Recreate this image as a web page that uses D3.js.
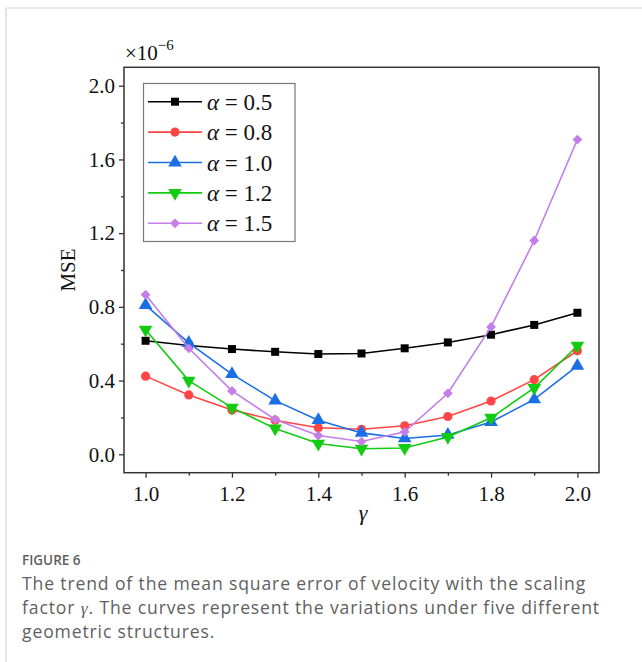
<!DOCTYPE html>
<html>
<head>
<meta charset="utf-8">
<script src="https://cdn.jsdelivr.net/npm/d3@7"></script>
<style>
  body { margin: 0; background: #fff; }
  svg { display: block; }
  .tick text { font-family: "Liberation Serif", "Times New Roman", serif; font-size: 21px; fill: #111; }
  .caption { font-family: "Open Sans", "Noto Sans", sans-serif; fill: #5f5f5f; }
</style>
</head>
<body>
<div id="viz"></div>
<script>
// data (MSE in units of 1e-6)
let gamma_vals = [1.0, 1.1, 1.2, 1.3, 1.4, 1.5, 1.6, 1.7, 1.8, 1.9, 2.0];
let mse_a05 = [0.616, 0.590, 0.571, 0.556, 0.544, 0.547, 0.575, 0.607, 0.649, 0.702, 0.768];
let mse_a08 = [0.424, 0.322, 0.240, 0.185, 0.144, 0.136, 0.155, 0.205, 0.289, 0.405, 0.562];
let mse_a10 = [0.809, 0.604, 0.435, 0.291, 0.185, 0.116, 0.086, 0.105, 0.175, 0.298, 0.480];
let mse_a12 = [0.676, 0.400, 0.253, 0.140, 0.058, 0.030, 0.034, 0.094, 0.198, 0.360, 0.589];
let mse_a15 = [0.866, 0.575, 0.344, 0.189, 0.102, 0.069, 0.122, 0.331, 0.691, 1.160, 1.708];
let series_labels = ["0.5", "0.8", "1.0", "1.2", "1.5"];
let x_ticks = [1.0, 1.2, 1.4, 1.6, 1.8, 2.0];
let x_minor = [1.1, 1.3, 1.5, 1.7, 1.9];
let y_ticks = [0.0, 0.4, 0.8, 1.2, 1.6, 2.0];
let y_minor = [0.2, 0.6, 1.0, 1.4, 1.8];

let series = [
    {label: series_labels[0], values: mse_a05, color: "#000000", shape: "square"},
    {label: series_labels[1], values: mse_a08, color: "#ff4545", shape: "circle"},
    {label: series_labels[2], values: mse_a10, color: "#1b6fe4", shape: "up"},
    {label: series_labels[3], values: mse_a12, color: "#12cc12", shape: "down"},
    {label: series_labels[4], values: mse_a15, color: "#c57de8", shape: "diamond"}
];

let W = 642, H = 662;
let plot = {left: 124, right: 599, top: 67.3, bottom: 472.7};

let svg = d3.select("#viz").append("svg")
    .attr("width", W)
    .attr("height", H);

// light page frame
svg.append("line").attr("x1", 6).attr("y1", 8).attr("x2", W).attr("y2", 8)
    .attr("stroke", "#d4d4d4").attr("stroke-width", 1.2);
svg.append("line").attr("x1", 6).attr("y1", 8).attr("x2", 6).attr("y2", H)
    .attr("stroke", "#d4d4d4").attr("stroke-width", 1.2);

let x = d3.scaleLinear().domain([0.95, 2.05]).range([plot.left, plot.right]);
let y = d3.scaleLinear().domain([-0.1, 2.1]).range([plot.bottom, plot.top]);

// axes
let gx = svg.append("g").attr("transform", "translate(0," + plot.bottom + ")")
    .call(d3.axisBottom(x).tickValues(x_ticks).tickFormat(d3.format(".1f")).tickSize(5).tickPadding(8));
let gx2 = svg.append("g").attr("transform", "translate(0," + plot.bottom + ")")
    .call(d3.axisBottom(x).tickValues(x_minor).tickFormat("").tickSize(3));
let gy = svg.append("g").attr("transform", "translate(" + plot.left + ",0)")
    .call(d3.axisLeft(y).tickValues(y_ticks).tickFormat(d3.format(".1f")).tickSize(5).tickPadding(4));
let gy2 = svg.append("g").attr("transform", "translate(" + plot.left + ",0)")
    .call(d3.axisLeft(y).tickValues(y_minor).tickFormat("").tickSize(3));

[gx, gx2, gy, gy2].forEach(function(g){
    g.select(".domain").remove();
    g.selectAll(".tick line").attr("stroke", "#333").attr("stroke-width", 1.3);
});

// frame
svg.append("rect")
    .attr("x", plot.left).attr("y", plot.top)
    .attr("width", plot.right - plot.left).attr("height", plot.bottom - plot.top)
    .attr("fill", "none").attr("stroke", "#333").attr("stroke-width", 1.5);

function marker(shape){
    let sym = d3.symbol();
    if(shape === "square"){ return sym.type(d3.symbolSquare).size(64)(); }
    if(shape === "circle"){ return sym.type(d3.symbolCircle).size(66)(); }
    if(shape === "up" || shape === "down"){ return sym.type(d3.symbolTriangle).size(80)(); }
    return sym.type(d3.symbolSquare).size(48)();
}
function marker_rot(shape){
    if(shape === "down"){ return " rotate(180)"; }
    if(shape === "diamond"){ return " rotate(45)"; }
    return "";
}

let line = d3.line()
    .x(function(d){ return x(d[0]); })
    .y(function(d){ return y(d[1]); });

series.forEach(function(s){
    let pts = gamma_vals.map(function(g, i){ return [g, s.values[i]]; });
    let g = svg.append("g");
    g.append("path")
        .datum(pts)
        .attr("d", line)
        .attr("fill", "none")
        .attr("stroke", s.color)
        .attr("stroke-width", 1.6);
    g.selectAll("path.mk")
        .data(pts)
        .enter()
        .append("path")
        .attr("class", "mk")
        .attr("d", marker(s.shape))
        .attr("transform", function(d){
            return "translate(" + x(d[0]) + "," + y(d[1]) + ")" + marker_rot(s.shape);
        })
        .attr("fill", s.color);
});

// legend
let lg = svg.append("g");
lg.append("rect")
    .attr("x", 143.5).attr("y", 83.5).attr("width", 151.5).attr("height", 158)
    .attr("fill", "#fff").attr("stroke", "#777").attr("stroke-width", 1.2);
series.forEach(function(s, i){
    let ly = 101.7 + i*30.4;
    lg.append("line").attr("x1", 148).attr("x2", 202).attr("y1", ly).attr("y2", ly)
        .attr("stroke", s.color).attr("stroke-width", 1.6);
    lg.append("path").attr("d", marker(s.shape))
        .attr("transform", "translate(175," + ly + ")" + marker_rot(s.shape))
        .attr("fill", s.color);
    let t = lg.append("text")
        .attr("x", 207).attr("y", ly + 8)
        .style("font-family", "'Liberation Serif', serif")
        .style("font-size", "23px")
        .attr("fill", "#111");
    t.append("tspan").style("font-style", "italic").text("α");
    t.append("tspan").text(" = " + s.label);
});

// axis titles
let exp = svg.append("text")
    .attr("x", 125).attr("y", 60)
    .style("font-family", "'Liberation Serif', serif")
    .style("font-size", "21px")
    .attr("fill", "#111");
exp.append("tspan").text("×10");
exp.append("tspan").attr("dy", -10).style("font-size", "15px").text("−6");

svg.append("text")
    .attr("transform", "translate(75,270) rotate(-90)")
    .attr("text-anchor", "middle")
    .style("font-family", "'Liberation Serif', serif")
    .style("font-size", "21px")
    .attr("fill", "#111")
    .text("MSE");

svg.append("text")
    .attr("x", 363).attr("y", 520)
    .attr("text-anchor", "middle")
    .style("font-family", "'Liberation Serif', serif")
    .style("font-size", "22px")
    .style("font-style", "italic")
    .attr("fill", "#111")
    .text("γ");

// caption
svg.append("text").attr("class", "caption")
    .attr("x", 22).attr("y", 565)
    .style("font-size", "13.5px")
    .style("font-weight", "600")
    .text("FIGURE 6");
let cap_lines = [
    ["The trend of the mean square error of velocity with the scaling"],
    ["factor ", "γ", ". The curves represent the variations under five different"],
    ["geometric structures."]
];
cap_lines.forEach(function(c, i){
    let t = svg.append("text").attr("class", "caption")
        .attr("x", 22).attr("y", 590 + i*24.2)
        .style("font-size", "17.6px")
        .style("letter-spacing", "0.85px");
    c.forEach(function(part, j){
        let sp = t.append("tspan").text(part);
        if(part === "γ"){
            sp.style("font-family", "'Liberation Serif', serif").style("font-style", "italic");
        }
    });
});
</script>
</body>
</html>
